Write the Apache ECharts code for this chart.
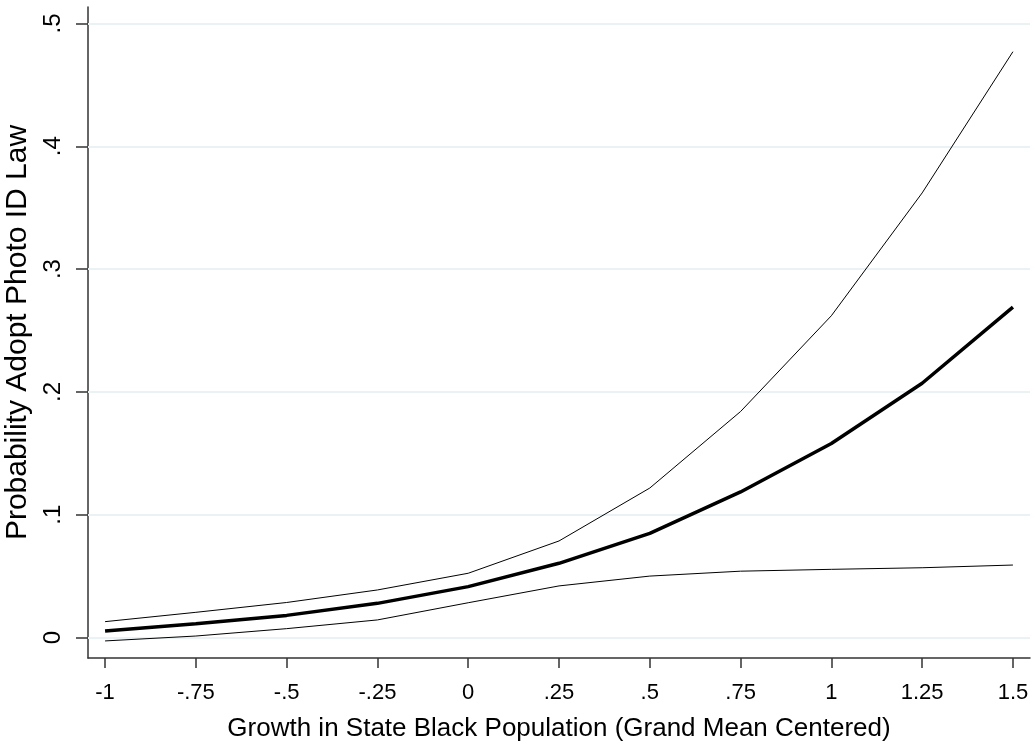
<!DOCTYPE html>
<html><head><meta charset="utf-8">
<script src="https://cdn.jsdelivr.net/npm/echarts@6/dist/echarts.min.js"></script>
<style>html,body{margin:0;padding:0;background:#fff}#c{width:1036px;height:746px}</style>
</head><body><div id="c"></div>
<script>
const xValues = [-1, -0.75, -0.5, -0.25, 0, 0.25, 0.5, 0.75, 1, 1.25, 1.5];
const meanProb = [0.0053, 0.0112, 0.0180, 0.0278, 0.0414, 0.0604, 0.0848, 0.1185, 0.1580, 0.2070, 0.2690];
const upperCI = [0.0129, 0.0205, 0.0285, 0.0387, 0.0523, 0.0786, 0.1217, 0.1840, 0.2620, 0.3620, 0.4770];
const lowerCI = [-0.0028, 0.0012, 0.0072, 0.0143, 0.0283, 0.0420, 0.0500, 0.0540, 0.0555, 0.0568, 0.0590];
const xTicks = [-1, -0.75, -0.5, -0.25, 0, 0.25, 0.5, 0.75, 1, 1.25, 1.5];
const xTickLabels = ['-1', '-.75', '-.5', '-.25', '0', '.25', '.5', '.75', '1', '1.25', '1.5'];
const yTicks = [0, 0.1, 0.2, 0.3, 0.4, 0.5];
const yTickLabels = ['0', '.1', '.2', '.3', '.4', '.5'];
const xTitle = 'Growth in State Black Population (Grand Mean Centered)';
const yTitle = 'Probability Adopt Photo ID Law';

const font = '"Liberation Sans", Arial, sans-serif';
function fmt(ticks, labels) {
  return v => { for (let i = 0; i < ticks.length; i++) if (Math.abs(v - ticks[i]) < 1e-6) return labels[i]; return ''; };
}
const pairs = arr => xValues.map((x, i) => [x, arr[i]]);
const chart = echarts.init(document.getElementById('c'), null, {renderer: 'canvas'});
chart.setOption({
  animation: false,
  backgroundColor: '#ffffff',
  grid: {left: 88, right: 6, top: 7, bottom: 88, containLabel: false, outerBoundsMode: 'none'},
  xAxis: {
    type: 'value', min: -1.047, max: 1.547,
    name: xTitle, nameLocation: 'middle', nameGap: 58,
    nameTextStyle: {fontFamily: font, fontSize: 26, color: '#000'},
    axisLine: {show: true, onZero: false, lineStyle: {color: '#333', width: 1.5}},
    axisTick: {show: true, length: 10, customValues: xTicks, lineStyle: {color: '#333', width: 1.5}},
    axisLabel: {customValues: xTicks, formatter: fmt(xTicks, xTickLabels), fontFamily: font, fontSize: 22, color: '#000', margin: 24},
    splitLine: {show: false}
  },
  yAxis: {
    type: 'value', min: -0.0167, max: 0.5134,
    name: yTitle, nameLocation: 'middle', nameGap: 54, nameRotate: 90,
    nameTextStyle: {fontFamily: font, fontSize: 30, color: '#000'},
    axisLine: {show: true, onZero: false, lineStyle: {color: '#333', width: 1.5}},
    axisTick: {show: true, length: 12, customValues: yTicks, lineStyle: {color: '#333', width: 1.5}},
    axisLabel: {customValues: yTicks, formatter: fmt(yTicks, yTickLabels), rotate: 90, fontFamily: font, fontSize: 24, color: '#000', margin: 23},
    splitLine: {show: false}
  },
  series: [
    {type: 'line', data: pairs(upperCI), symbol: 'none', lineStyle: {color: '#000', width: 1}, z: 3,
     markLine: {silent: true, symbol: 'none', label: {show: false}, z: 1,
       lineStyle: {color: '#eaf2f3', width: 2, type: 'solid'},
       data: yTicks.map(v => ({yAxis: v}))}},
    {type: 'line', data: pairs(lowerCI), symbol: 'none', lineStyle: {color: '#000', width: 1}, z: 3},
    {type: 'line', data: pairs(meanProb), symbol: 'none', lineStyle: {color: '#000', width: 3.5}, z: 4}
  ]
});
</script></body></html>
